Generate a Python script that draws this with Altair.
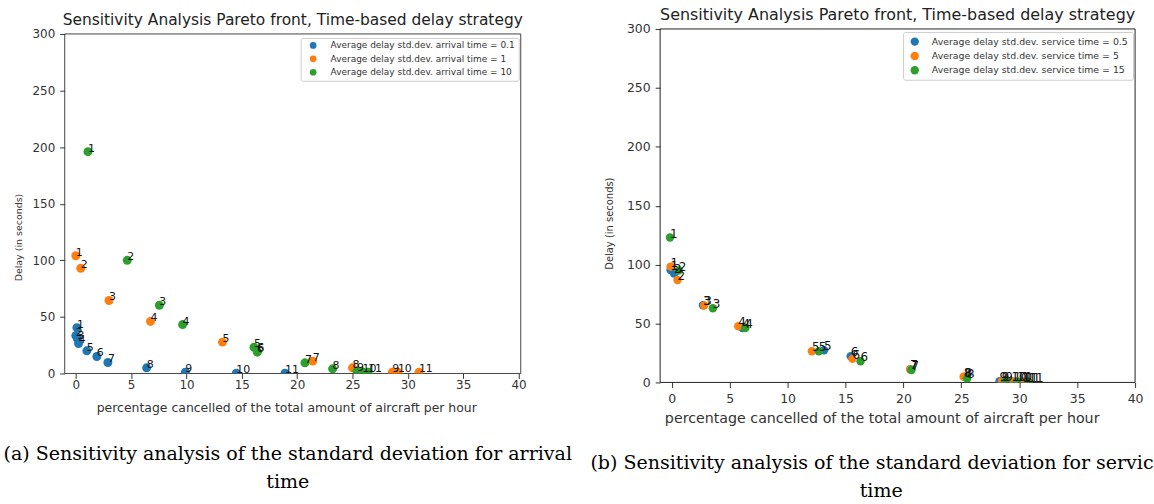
import altair as alt
import pandas as pd

# ---------------------------------------------------------------------------
# Panel (a): std.dev. of the arrival time
# ---------------------------------------------------------------------------
a_names = [
    "Average delay std.dev. arrival time = 0.1",
    "Average delay std.dev. arrival time = 1",
    "Average delay std.dev. arrival time = 10",
]
a_x_01 = [0.1, 0.0, 0.15, 0.25, 1.0, 1.9, 2.9, 6.4, 9.9, 14.5, 18.9]
a_y_01 = [40.5, 33.5, 30.5, 26.5, 20.0, 15.0, 9.7, 5.0, 1.2, 0.3, 0.3]
a_x_1 = [0.0, 0.45, 3.0, 6.75, 13.25, 16.4, 21.4, 25.0, 28.6, 29.1, 31.0]
a_y_1 = [104.0, 93.0, 64.5, 46.0, 27.7, 19.5, 10.9, 5.0, 1.2, 1.0, 1.0]
a_x_10 = [1.1, 4.65, 7.55, 9.65, 16.1, 16.4, 20.7, 23.2, 25.4, 25.9, 26.4]
a_y_10 = [196.0, 100.0, 60.3, 43.2, 23.2, 18.8, 9.4, 4.1, 2.0, 1.3, 1.0]

# ---------------------------------------------------------------------------
# Panel (b): std.dev. of the service time
# ---------------------------------------------------------------------------
b_names = [
    "Average delay std.dev. service time = 0.5",
    "Average delay std.dev. service time = 5",
    "Average delay std.dev. service time = 15",
]
b_x_05 = [-0.1, 0.2, 2.7, 6.1, 13.15, 15.45, 20.6, 25.3, 28.3, 29.3, 30.3]
b_y_05 = [95.5, 92.5, 65.5, 46.2, 27.3, 22.2, 11.2, 4.8, 1.0, 0.8, 0.6]
b_x_5 = [-0.1, 0.5, 2.8, 5.75, 12.1, 15.6, 20.6, 25.2, 28.5, 29.5, 30.5]
b_y_5 = [98.3, 87.0, 65.3, 47.6, 26.5, 20.0, 11.0, 4.8, 1.0, 0.8, 0.6]
b_x_15 = [-0.15, 0.6, 3.55, 6.35, 12.7, 16.3, 20.7, 25.5, 28.8, 29.8, 30.8]
b_y_15 = [123.0, 95.0, 63.0, 46.2, 26.5, 18.0, 10.5, 3.4, 1.0, 0.8, 0.6]

x_ticks = [0, 5, 10, 15, 20, 25, 30, 35, 40]
y_ticks = [0, 50, 100, 150, 200, 250, 300]
colors = ["#1f77b4", "#ff7f0e", "#2ca02c"]

title_text = "Sensitivity Analysis Pareto front, Time-based delay strategy"
x_title = "percentage cancelled of the total amount of aircraft per hour"
y_title = "Delay (in seconds)"
cap_a = ["(a) Sensitivity analysis of the standard deviation for arrival", "time"]
cap_b = ["(b) Sensitivity analysis of the standard deviation for service", "time"]

FONT = "DejaVu Sans"
SERIF = "DejaVu Serif"


def table(names, xs_list, ys_list):
    rows = []
    for name, xs, ys in zip(names, xs_list, ys_list):
        for i, (x, y) in enumerate(zip(xs, ys), start=1):
            rows.append({"series": name, "x": x, "y": y, "n": str(i)})
    return pd.DataFrame(rows)


def text_layer(text, x, y, size, font=FONT, align="center", baseline="middle",
               color="#222", limit=None):
    kw = dict(align=align, baseline=baseline, font=font, fontSize=size, color=color)
    if limit is not None:
        kw.update(limit=limit, ellipsis="\u200b")
    return alt.Chart(pd.DataFrame({"t": [text]})).mark_text(**kw).encode(
        x=alt.value(x), y=alt.value(y), text="t:N"
    )


def frame_layers(W, y_top, y_bottom, color):
    """Four spines of the axes box, drawn at the ends of the data range."""
    one = pd.DataFrame({"k": [0]})
    rule = alt.Chart(one).mark_rule(color=color, strokeWidth=1)
    return [
        rule.encode(x=alt.value(0), x2=alt.value(W), y=alt.datum(y_top)),
        rule.encode(x=alt.value(0), x2=alt.value(W), y=alt.datum(y_bottom)),
        rule.encode(x=alt.value(0), y=alt.datum(y_top), y2=alt.datum(y_bottom)),
        rule.encode(x=alt.value(W), y=alt.datum(y_top), y2=alt.datum(y_bottom)),
    ]


def panel(df, names, W, H, xdom, ydom, p):
    x_axis = alt.Axis(
        values=x_ticks, title=x_title, grid=False, domain=False,
        tickSize=5, tickColor="#333", labelColor="#333", labelFont=FONT,
        labelFontSize=p["tick_fs"], labelPadding=p["xlab_pad"], labelFlush=False,
        titleFont=FONT, titleFontSize=p["xt_fs"], titleFontWeight="normal",
        titleColor="#333", titleBaseline="middle", titleX=p["xt_x"], titleY=p["xt_y"],
    )
    y_axis = alt.Axis(
        values=y_ticks, title=y_title, grid=False, domain=False,
        tickSize=5, tickColor="#333", labelColor="#333", labelFont=FONT,
        labelFontSize=p["tick_fs"], labelPadding=5, labelFlush=False,
        titleFont=FONT, titleFontSize=p["yt_fs"], titleFontWeight="normal",
        titleColor="#333", titleBaseline="middle", titleX=p["yt_x"], titleY=p["yt_y"],
        titleAngle=270,
    )
    base = alt.Chart(df).encode(
        x=alt.X("x:Q", scale=alt.Scale(domain=xdom, nice=False, zero=False), axis=x_axis),
        y=alt.Y("y:Q", scale=alt.Scale(domain=ydom, nice=False, zero=False), axis=y_axis),
    )
    legend = alt.Legend(
        orient="none", legendX=p["lx"], legendY=p["ly"], title=None,
        symbolType="circle", symbolSize=p["lsym"], symbolStrokeWidth=0, symbolOpacity=1,
        symbolOffset=p["loff"], labelFont=FONT, labelFontSize=p["lfs"], labelColor="#333",
        labelOffset=p["llab"], labelLimit=400, rowPadding=p["lrow"], padding=p["lpad"],
        strokeColor="#cccccc", fillColor="white", cornerRadius=2,
    )
    points = base.mark_circle(size=p["msize"], opacity=1, clip=True).encode(
        color=alt.Color("series:N", scale=alt.Scale(domain=names, range=colors),
                        sort=names, legend=legend)
    )
    labels = base.mark_text(align="left", baseline="alphabetic", font=FONT,
                            fontSize=p["lab_fs"], color="#111").encode(text="n:N")
    anchor = alt.Chart(pd.DataFrame({"k": [0]})).mark_rule(opacity=0).encode(
        x=alt.value(p["anchor_l"]), x2=alt.value(p["anchor_r"]),
        y=alt.value(p["anchor_t"]), y2=alt.value(p["anchor_t"]),
    )
    layers = ([anchor] + frame_layers(W, 300, 0, p["frame"]) + [points, labels,
              text_layer(title_text, W / 2, p["title_y"], p["title_fs"])] + p["captions"])
    return alt.layer(*layers).properties(
        width=W, height=H, view=alt.ViewBackground(stroke=None),
    )


# panel (a): axes box from y=34 to 375, drawn in a plot area that starts at 29
WA, HA = 458, 346
YA_TOP = 300 * HA / 341
# panel (b): axes box from y=29 to 384
WB, HB = 477, 355
CAP_FS = 19.1

pa = dict(
    tick_fs=12, xlab_pad=1, xt_fs=12.5, xt_x=WA / 2 - 6.5, xt_y=34,
    yt_fs=9.5, yt_x=-46, yt_y=209,
    lx=237, ly=9, lsym=45, loff=5, lfs=9, llab=13, lrow=3.5, lpad=3,
    msize=81, lab_fs=11, title_fs=15.5, title_y=-9, frame="#444",
    anchor_l=-64.5, anchor_r=WA + 55, anchor_t=-28,
    captions=[
        text_layer(cap_a[0], 224, 427, CAP_FS, font=SERIF, color="#000"),
        text_layer(cap_a[1], 224, 455, CAP_FS, font=SERIF, color="#000"),
    ],
)
pb = dict(
    tick_fs=12.5, xlab_pad=5, xt_fs=14.3, xt_x=WB / 2 - 16, xt_y=36,
    yt_fs=10, yt_x=-51, yt_y=195,
    lx=244, ly=3, lsym=70, loff=2, lfs=9.4, llab=12.5, lrow=3.4, lpad=5,
    msize=72, lab_fs=12, title_fs=16, title_y=-14, frame="#222",
    anchor_l=-83, anchor_r=WB, anchor_t=-28,
    captions=[
        text_layer(cap_b[0], -70, 436, CAP_FS, font=SERIF, color="#000",
                   align="left", limit=569),
        text_layer(cap_b[1], 222, 464, CAP_FS, font=SERIF, color="#000"),
    ],
)

df_a = table(a_names, [a_x_01, a_x_1, a_x_10], [a_y_01, a_y_1, a_y_10])
df_b = table(b_names, [b_x_05, b_x_5, b_x_15], [b_y_05, b_y_5, b_y_15])

chart = alt.hconcat(
    panel(df_a, a_names, WA, HA, [-1, 40.2], [0, YA_TOP], pa),
    panel(df_b, b_names, WB, HB, [-1, 40], [0, 300], pb),
    spacing=2,
).resolve_scale(color="independent").properties(padding=0).configure(font=FONT)

chart.save("out.html", embed_options={"renderer": "svg", "actions": False})
